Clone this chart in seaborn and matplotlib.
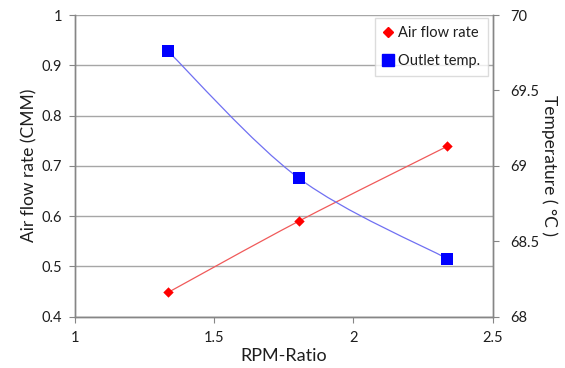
import numpy as np
import pandas as pd
import matplotlib
matplotlib.use("Agg")
import matplotlib.pyplot as plt
from matplotlib.path import Path
from matplotlib.patches import PathPatch
from matplotlib.lines import Line2D
import seaborn as sns

# ---- data ----
rpm_ratio = [1.335, 1.805, 2.338]
air_flow = [0.448, 0.590, 0.739]
outlet_temp = [69.76, 68.917, 68.383]

x_ticks = [1, 1.5, 2, 2.5]
x_tick_labels = ["1", "1.5", "2", "2.5"]
left_ticks = [0.4, 0.5, 0.6, 0.7, 0.8, 0.9, 1.0]
left_tick_labels = ["0.4", "0.5", "0.6", "0.7", "0.8", "0.9", "1"]
right_ticks = [68, 68.5, 69, 69.5, 70]
right_tick_labels = ["68", "68.5", "69", "69.5", "70"]

series_names = ["Air flow rate", "Outlet temp."]
x_label = "RPM-Ratio"
left_label = "Air flow rate (CMM)"
right_label = "Temperature ( \u00b0C )"

sns.set_theme(style="white")
plt.rcParams["font.family"] = ["Lato", "DejaVu Sans"]

TXT = "#1e1e1e"
GRID = "#a6a6a6"
AXC = "#868686"

fig = plt.figure(figsize=(5.65, 3.68), dpi=100)
ax = fig.add_axes([0.1322, 0.1397, 0.7397, 0.8195])
ax2 = ax.twinx()

df = pd.DataFrame({"rpm": rpm_ratio, "air": air_flow, "temp": outlet_temp})


def smooth_path(xs, ys):
    # Excel-style smoothed line: Catmull-Rom segments drawn as cubic Beziers
    pts = np.column_stack([xs, ys]).astype(float)
    n = len(pts)
    verts = [pts[0]]
    codes = [Path.MOVETO]
    for i in range(n - 1):
        p0 = pts[i - 1] if i > 0 else pts[i]
        p1 = pts[i]
        p2 = pts[i + 1]
        p3 = pts[i + 2] if i + 2 < n else pts[i + 1]
        c1 = p1 + (p2 - p0) / 6.0
        c2 = p2 - (p3 - p1) / 6.0
        verts += [c1, c2, p2]
        codes += [Path.CURVE4] * 3
    return Path(verts, codes)


ax.add_patch(PathPatch(smooth_path(df["rpm"], df["air"]), facecolor="none",
                       edgecolor="#f05a5a", lw=0.9, zorder=3))
ax2.add_patch(PathPatch(smooth_path(df["rpm"], df["temp"]), facecolor="none",
                        edgecolor="#7070f2", lw=0.9, zorder=3))

sns.scatterplot(data=df, x="rpm", y="air", marker="D", s=28, color="#ff0000",
                edgecolor="#ff0000", linewidth=0, ax=ax, zorder=4, legend=False)
sns.scatterplot(data=df, x="rpm", y="temp", marker="s", s=68, color="#0000ff",
                edgecolor="#0000ff", linewidth=0, ax=ax2, zorder=4, legend=False)

# axes limits / ticks
ax.set_xlim(1, 2.5)
ax.set_ylim(0.4, 1.0)
ax2.set_ylim(68, 70)

ax.set_xticks(x_ticks)
ax.set_xticklabels(x_tick_labels)
ax.set_yticks(left_ticks)
ax.set_yticklabels(left_tick_labels)
ax2.set_yticks(right_ticks)
ax2.set_yticklabels(right_tick_labels)

ax.yaxis.grid(True, color=GRID, lw=1.0)
ax.set_axisbelow(True)
ax.xaxis.grid(False)

for a in (ax, ax2):
    a.spines["top"].set_visible(False)
    for side in ("left", "right", "bottom"):
        a.spines[side].set_color(AXC)
        a.spines[side].set_linewidth(1.0)

ax.tick_params(axis="y", which="major", left=True, direction="out", length=4.3,
               width=0.8, color=AXC, labelsize=10.5, labelcolor=TXT, pad=5)
ax.tick_params(axis="x", which="major", bottom=True, direction="out", length=4,
               width=0.8, color=AXC, labelsize=10.5, labelcolor=TXT, pad=6.5)
ax2.tick_params(axis="y", which="major", right=True, direction="out", length=4.3,
                width=0.8, color=AXC, labelsize=10.5, labelcolor=TXT, pad=8.5)

ax.set_xlabel(x_label, fontsize=13, color=TXT, labelpad=2)
ax.set_ylabel(left_label, fontsize=12.5, color=TXT, labelpad=3)
ax2.set_ylabel(right_label, fontsize=12.5, color=TXT, rotation=270, labelpad=13)

handles = [
    Line2D([], [], marker="D", color="#ff0000", linestyle="none", markersize=5.5),
    Line2D([], [], marker="s", color="#0000ff", linestyle="none", markersize=8.2),
]
leg = ax2.legend(handles, series_names, loc="upper right",
                 bbox_to_anchor=(0.8637, 0.950), bbox_transform=fig.transFigure,
                 frameon=True, fancybox=False, fontsize=10.5, labelspacing=0.95,
                 handlelength=0.7, handletextpad=0.3, borderpad=0.55,
                 borderaxespad=0)
leg.get_frame().set_edgecolor("#d4d4d4")
leg.get_frame().set_linewidth(1.0)
for t in leg.get_texts():
    t.set_color(TXT)

fig.savefig("out.png", dpi=100)
